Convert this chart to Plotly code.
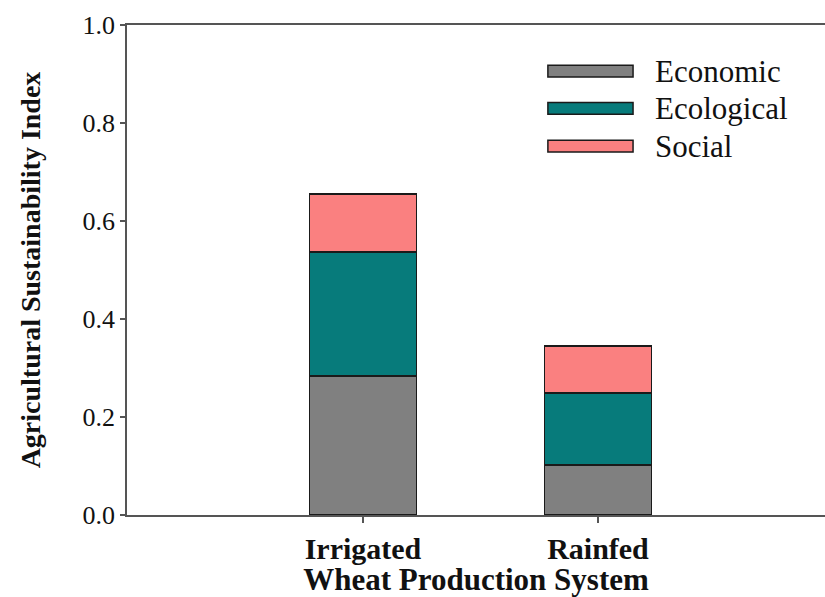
import plotly.graph_objects as go

categories = ["Irrigated", "Rainfed"]
cat_pos = [0, 1]
economic = [0.284, 0.102]
ecological = [0.253, 0.147]
social = [0.118, 0.096]
series_names = ["Economic", "Ecological", "Social"]
series_colors = ["#808080", "#077b7b", "#fa8080"]
y_ticks = [0.0, 0.2, 0.4, 0.6, 0.8, 1.0]

serif = "Liberation Serif, Times New Roman, serif"

fig = go.Figure()
for name, vals, col in zip(series_names, [economic, ecological, social], series_colors):
    fig.add_trace(go.Bar(
        x=cat_pos, y=vals, name=name, width=0.455,
        marker=dict(color=col, line=dict(color="#1a1a1a", width=1.5)),
        showlegend=False,
    ))

# custom legend (long rectangular swatches)
leg_y = [0.906, 0.83, 0.753]
for name, col, yy in zip(series_names, series_colors, leg_y):
    fig.add_shape(type="rect", xref="paper", yref="paper",
                  x0=0.603, x1=0.725, y0=yy - 0.012, y1=yy + 0.012,
                  fillcolor=col, line=dict(color="#1a1a1a", width=1.5))
    fig.add_annotation(xref="paper", yref="paper", x=0.754, y=yy,
                       text=name, showarrow=False, xanchor="left", yanchor="middle",
                       font=dict(family=serif, size=31, color="#111"))

fig.update_layout(
    width=825, height=597,
    margin=dict(l=127, r=0, t=25, b=82),
    barmode="stack",
    plot_bgcolor="white", paper_bgcolor="white",
    font=dict(family=serif, color="#111"),
)
fig.update_xaxes(
    range=[-1.004, 1.966], tickvals=cat_pos,
    ticktext=["<b>%s</b>" % c for c in categories],
    tickfont=dict(family=serif, size=30, color="#111"),
    showline=True, linecolor="#555", linewidth=1.5, mirror=True,
    ticks="outside", ticklen=6, tickcolor="#555", tickwidth=1.5,
    showgrid=False, zeroline=False,
    title=dict(text="<b>Wheat Production System</b>", font=dict(family=serif, size=31, color="#111"), standoff=2),
)
fig.update_yaxes(
    range=[0, 1.0], tickvals=y_ticks, ticktext=["%.1f" % v for v in y_ticks],
    tickfont=dict(family=serif, size=26, color="#111"),
    showline=True, linecolor="#555", linewidth=1.5,
    ticks="outside", ticklen=5, tickcolor="#555", tickwidth=1.5,
    showgrid=False, zeroline=False,
    title=dict(text="<b>Agricultural Sustainability Index</b>", font=dict(family=serif, size=28, color="#111"), standoff=34),
)

fig.write_html("out.html", config={"displayModeBar": False},
               post_script="document.body.style.margin='0';document.body.style.overflow='hidden';")
